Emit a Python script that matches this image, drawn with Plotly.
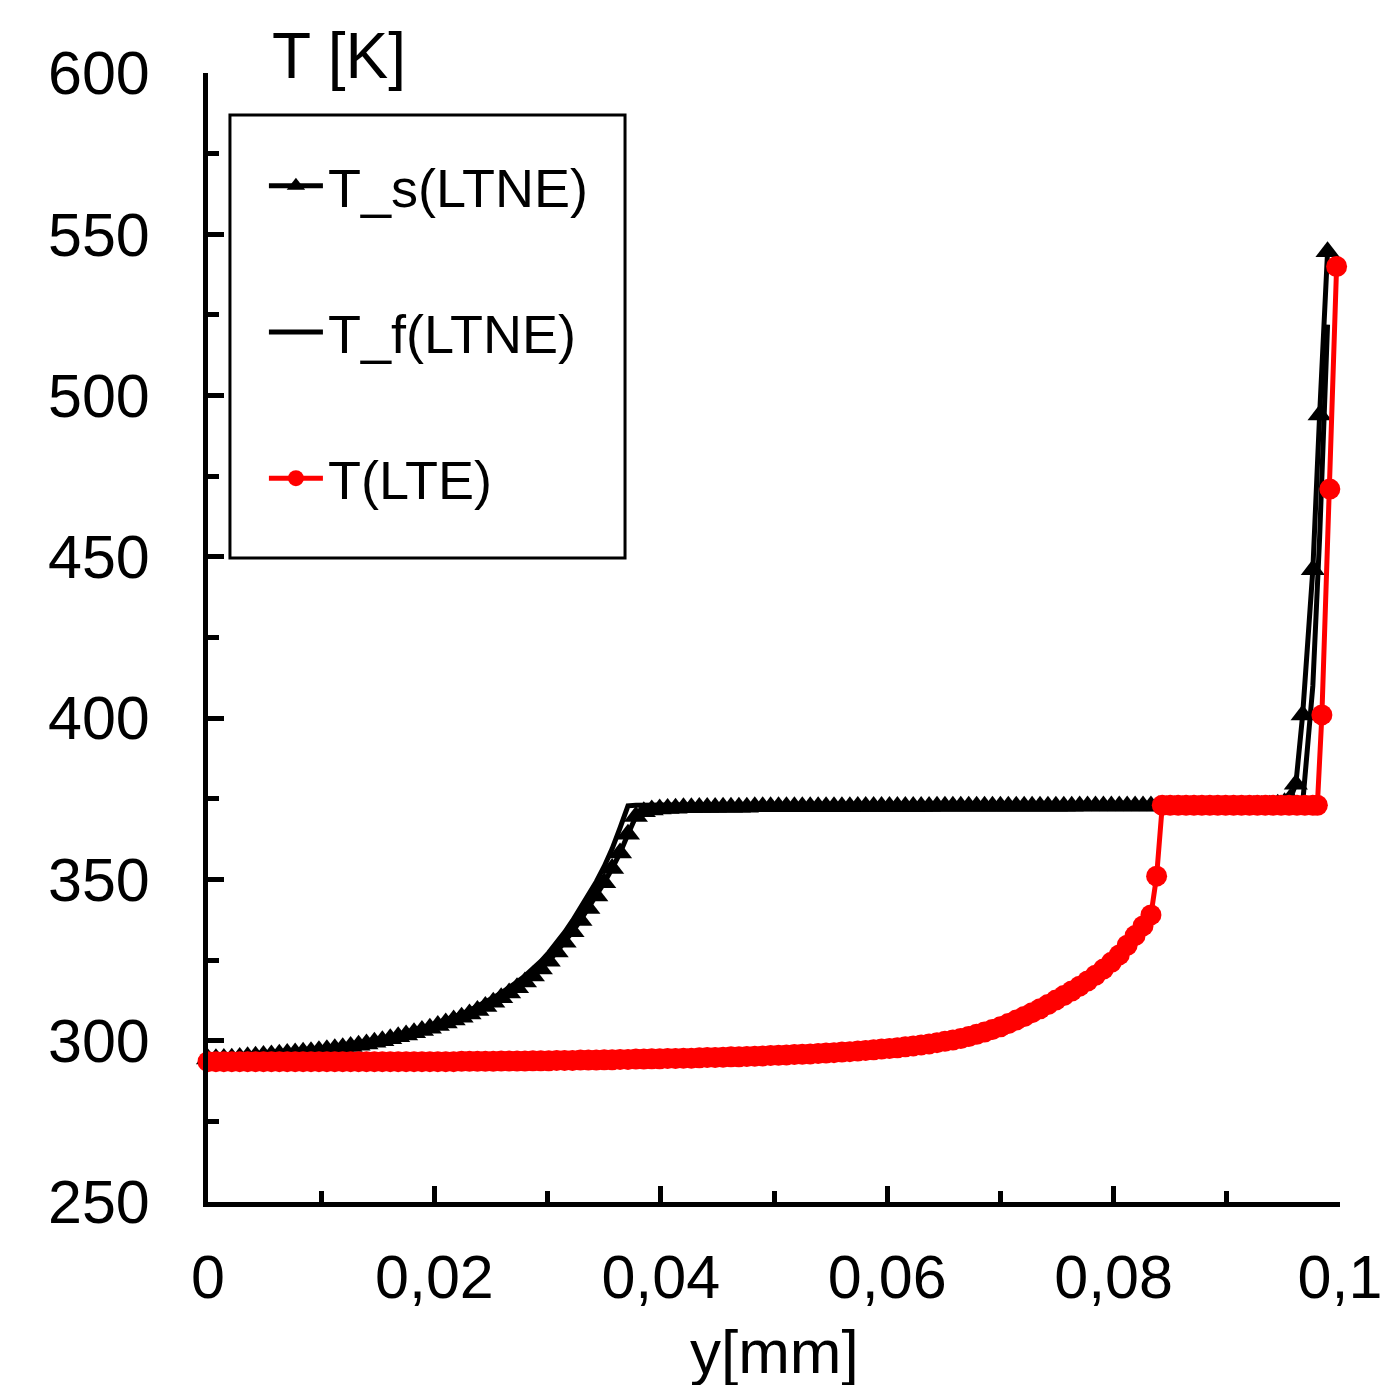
import plotly.graph_objects as go

# ---------------- data ----------------
x_grid = [
    0.0000, 0.0007, 0.0014, 0.0021, 0.0028, 0.0035, 0.0042, 0.0049, 0.0056, 0.0063,
    0.0070, 0.0077, 0.0084, 0.0091, 0.0098, 0.0105, 0.0112, 0.0119, 0.0126, 0.0133,
    0.0140, 0.0147, 0.0154, 0.0161, 0.0168, 0.0175, 0.0182, 0.0189, 0.0196, 0.0203,
    0.0210, 0.0217, 0.0224, 0.0231, 0.0238, 0.0245, 0.0252, 0.0259, 0.0266, 0.0273,
    0.0280, 0.0287, 0.0294, 0.0301, 0.0308, 0.0315, 0.0322, 0.0329, 0.0336, 0.0343,
    0.0350, 0.0357, 0.0364, 0.0371, 0.0378, 0.0385, 0.0392, 0.0399, 0.0406, 0.0413,
    0.0420, 0.0427, 0.0434, 0.0441, 0.0448, 0.0455, 0.0462, 0.0469, 0.0476, 0.0483,
    0.0490, 0.0497, 0.0504, 0.0511, 0.0518, 0.0525, 0.0532, 0.0539, 0.0546, 0.0553,
    0.0560, 0.0567, 0.0574, 0.0581, 0.0588, 0.0595, 0.0602, 0.0609, 0.0616, 0.0623,
    0.0630, 0.0637, 0.0644, 0.0651, 0.0658, 0.0665, 0.0672, 0.0679, 0.0686, 0.0693,
    0.0700, 0.0707, 0.0714, 0.0721, 0.0728, 0.0735, 0.0742, 0.0749, 0.0756, 0.0763,
    0.0770, 0.0777, 0.0784, 0.0791, 0.0798, 0.0805, 0.0812, 0.0819, 0.0826, 0.0833,
    0.0840, 0.0847, 0.0854, 0.0861, 0.0868, 0.0875, 0.0882, 0.0889, 0.0896, 0.0903,
    0.0910, 0.0917, 0.0924, 0.0931, 0.0938,
]
x_ltne_tail = [0.0945, 0.0951, 0.0956, 0.0961, 0.0967, 0.0976, 0.0982, 0.0989]
x_ltne = x_grid + x_ltne_tail

# solid temperature, LTNE model [K]
t_s = [
    294.3, 294.4, 294.5, 294.6, 294.8, 295.0, 295.2, 295.4, 295.6, 295.8,
    296.0, 296.2, 296.4, 296.6, 296.9, 297.2, 297.5, 297.8, 298.2, 298.6,
    299.0, 299.5, 300.0, 300.6, 301.2, 301.8, 302.5, 303.2, 303.9, 304.7,
    305.5, 306.4, 307.3, 308.3, 309.4, 310.6, 311.9, 313.3, 314.8, 316.4,
    318.2, 320.1, 322.2, 324.6, 327.5, 330.5, 333.8, 337.3, 341.0, 344.9,
    349.0, 353.4, 358.2, 364.0, 369.5, 371.0, 371.5, 371.8, 372.0, 372.1,
    372.2, 372.2, 372.3, 372.3, 372.3, 372.4, 372.4, 372.4, 372.4, 372.5,
    372.5, 372.5, 372.5, 372.5, 372.5, 372.5, 372.5, 372.5, 372.5, 372.5,
    372.5, 372.5, 372.6, 372.6, 372.6, 372.6, 372.6, 372.6, 372.6, 372.6,
    372.6, 372.6, 372.7, 372.7, 372.7, 372.7, 372.7, 372.7, 372.7, 372.7,
    372.7, 372.7, 372.7, 372.7, 372.7, 372.7, 372.7, 372.7, 372.7, 372.7,
    372.8, 372.8, 372.8, 372.8, 372.8, 372.8, 372.8, 372.8, 372.8, 372.8,
    372.8, 372.8, 372.8, 372.8, 372.8, 372.8, 372.8, 372.8, 372.8, 372.8,
    372.8, 372.8, 372.9, 372.9, 373.0,
    373.3, 373.8, 375.0, 379.5, 401.0, 446.0, 494.0, 544.6,
]

# fluid temperature, LTNE model [K]
t_f = [
    294.4, 294.5, 294.6, 294.8, 295.0, 295.2, 295.4, 295.6, 295.8, 296.0,
    296.2, 296.4, 296.6, 296.9, 297.2, 297.5, 297.8, 298.2, 298.6, 299.0,
    299.5, 300.0, 300.6, 301.2, 301.8, 302.5, 303.2, 303.9, 304.7, 305.5,
    306.4, 307.3, 308.3, 309.4, 310.6, 311.9, 313.3, 314.8, 316.4, 318.2,
    320.1, 322.2, 324.6, 327.3, 330.3, 333.6, 337.2, 341.0, 345.0, 349.3,
    354.0, 359.5, 366.0, 372.8, 373.0, 373.1, 373.1, 373.1, 373.1, 373.1,
    373.1, 373.1, 373.1, 373.1, 373.1, 373.1, 373.1, 373.1, 373.1, 373.1,
    373.1, 373.1, 373.1, 373.1, 373.1, 373.1, 373.1, 373.1, 373.1, 373.1,
    373.1, 373.1, 373.1, 373.1, 373.1, 373.1, 373.1, 373.1, 373.1, 373.1,
    373.2, 373.2, 373.2, 373.2, 373.2, 373.2, 373.2, 373.2, 373.2, 373.2,
    373.2, 373.2, 373.2, 373.2, 373.2, 373.2, 373.2, 373.2, 373.2, 373.2,
    373.2, 373.2, 373.2, 373.2, 373.2, 373.2, 373.2, 373.2, 373.2, 373.2,
    373.2, 373.2, 373.2, 373.2, 373.2, 373.2, 373.2, 373.2, 373.2, 373.2,
    373.2, 373.2, 373.2, 373.2, 373.2,
    373.2, 373.2, 373.2, 373.3, 373.5, 410.0, 456.0, 522.0,
]

# LTE model
x_lte_tail = [
    0.0838, 0.0843, 0.0850, 0.0857, 0.0864, 0.0871, 0.0878, 0.0885, 0.0892, 0.0899,
    0.0906, 0.0913, 0.0920, 0.0927, 0.0934, 0.0941, 0.0948, 0.0955, 0.0962, 0.0969,
    0.0976, 0.0980, 0.0984, 0.0991, 0.0997,
]
x_lte = x_grid[:120] + x_lte_tail

t_lte = [
    293.5, 293.5, 293.5, 293.5, 293.5, 293.5, 293.5, 293.5, 293.5, 293.5,
    293.5, 293.5, 293.5, 293.5, 293.5, 293.5, 293.5, 293.5, 293.5, 293.5,
    293.5, 293.5, 293.5, 293.5, 293.5, 293.5, 293.5, 293.5, 293.5, 293.5,
    293.5, 293.5, 293.6, 293.6, 293.6, 293.6, 293.6, 293.7, 293.7, 293.7,
    293.7, 293.8, 293.8, 293.8, 293.9, 293.9, 293.9, 294.0, 294.0, 294.0,
    294.1, 294.1, 294.2, 294.2, 294.3, 294.3, 294.4, 294.4, 294.5, 294.5,
    294.6, 294.6, 294.7, 294.8, 294.8, 294.9, 295.0, 295.0, 295.1, 295.2,
    295.3, 295.4, 295.5, 295.6, 295.7, 295.8, 295.9, 296.0, 296.2, 296.3,
    296.5, 296.6, 296.8, 297.0, 297.2, 297.4, 297.6, 297.8, 298.1, 298.4,
    298.7, 299.0, 299.4, 299.8, 300.2, 300.7, 301.3, 302.0, 302.7, 303.5,
    304.3, 305.3, 306.4, 307.5, 308.7, 309.9, 311.2, 312.6, 314.0, 315.4,
    316.9, 318.5, 320.3, 322.2, 324.3, 326.6, 329.6, 332.6, 335.6, 339.0,
    351.0, 373.0, 373.0, 373.0, 373.0, 373.0, 373.0, 373.0, 373.0, 373.0,
    373.0, 373.0, 373.0, 373.0, 373.0, 373.0, 373.0, 373.0, 373.0, 373.0,
    373.0, 373.0, 401.0, 471.0, 540.0,
]

x_ticks = [0, 0.02, 0.04, 0.06, 0.08, 0.1]
y_ticks = [250, 300, 350, 400, 450, 500, 550, 600]

series_names = ["T_s(LTNE)", "T_f(LTNE)", "T(LTE)"]

# ---------------- figure ----------------
FONT = "Arial, Liberation Sans, sans-serif"

fig = go.Figure()
fig.add_trace(go.Scatter(
    x=x_ltne, y=t_s, mode="lines+markers", name=series_names[0],
    line=dict(color="black", width=5),
    marker=dict(symbol="triangle-up", size=21, color="black"),
    legendgroup="g1", cliponaxis=False,
))
fig.add_trace(go.Scatter(
    x=x_ltne, y=t_f, mode="lines", name=series_names[1],
    line=dict(color="black", width=5),
    legendgroup="g2", cliponaxis=False,
))
fig.add_trace(go.Scatter(
    x=x_lte, y=t_lte, mode="lines+markers", name=series_names[2],
    line=dict(color="red", width=5),
    marker=dict(symbol="circle", size=21, color="red"),
    legendgroup="g3", cliponaxis=False,
))

axis_common = dict(
    showline=True, linecolor="black", linewidth=5,
    ticks="inside", ticklen=16, tickwidth=5, tickcolor="black",
    showgrid=False, zeroline=False, mirror=False, automargin=False,
    ticklabeloverflow="allow",
    tickfont=dict(family=FONT, size=61, color="black"),
)

fig.update_xaxes(
    range=[0, 0.1], tickvals=x_ticks, ticklabelstandoff=18,
    minor=dict(dtick=0.01, tick0=0, ticks="inside", ticklen=11, tickwidth=5, tickcolor="black"),
    **axis_common,
)
fig.update_yaxes(
    range=[250, 600], tickvals=y_ticks, ticklabelstandoff=41,
    minor=dict(dtick=25, tick0=250, ticks="inside", ticklen=11, tickwidth=5, tickcolor="black"),
    **axis_common,
)

fig.add_shape(
    type="rect", xref="paper", yref="paper",
    x0=0.0194, x1=0.3684, y0=0.5704, y1=0.9628,
    line=dict(color="black", width=3), fillcolor="rgba(0,0,0,0)",
)

fig.add_annotation(
    text="T [K]", xref="paper", yref="paper", x=0.0548, y=1.015,
    xanchor="left", yanchor="middle", showarrow=False,
    font=dict(family=FONT, size=64, color="black"),
)
fig.add_annotation(
    text="y[mm]", xref="paper", yref="paper", x=0.5, y=-0.1,
    xanchor="center", yanchor="top", showarrow=False,
    font=dict(family=FONT, size=62, color="black"),
)

fig.update_layout(
    width=1382, height=1385,
    margin=dict(l=208, r=42, t=73, b=183),
    paper_bgcolor="white", plot_bgcolor="white",
    separators=", ",
    showlegend=True,
    legend=dict(
        x=0.0494, y=0.937, xanchor="left", yanchor="top",
        bgcolor="rgba(0,0,0,0)", borderwidth=0,
        font=dict(family=FONT, size=54, color="black"),
        itemwidth=54, tracegroupgap=73, traceorder="grouped",
    ),
)

fig.write_html("out.html")
